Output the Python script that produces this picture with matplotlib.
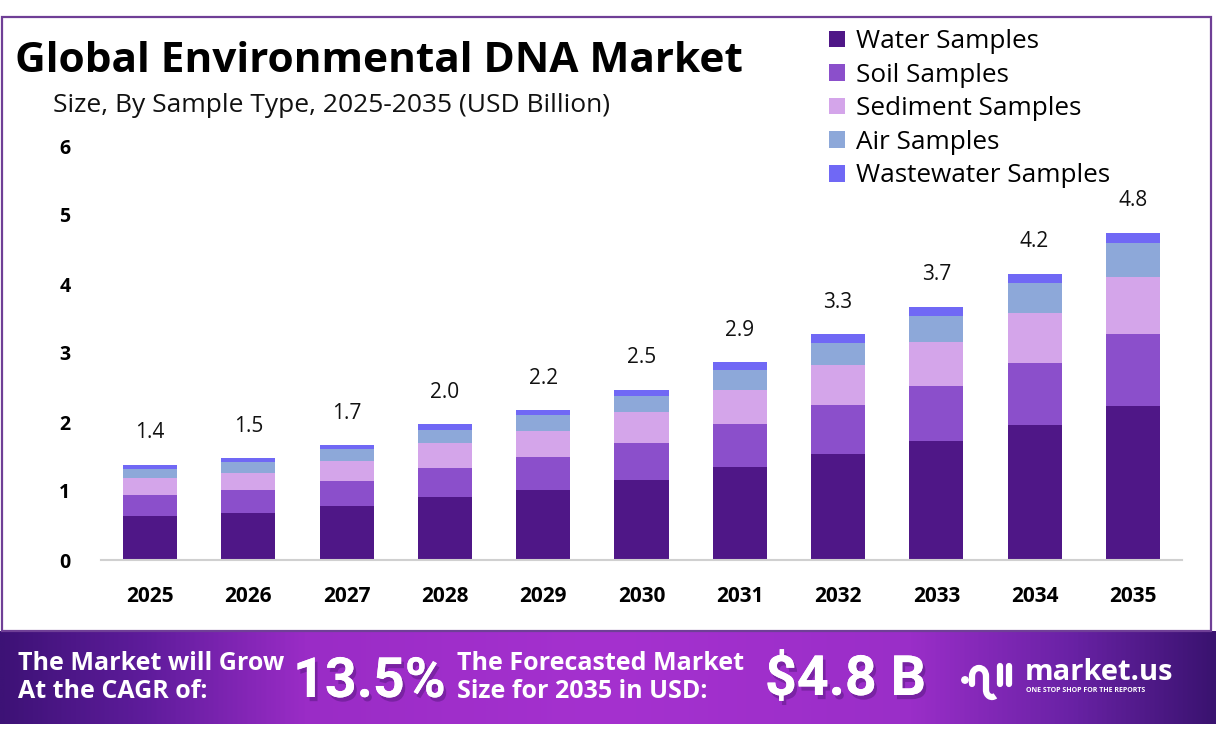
import numpy as np
import matplotlib
matplotlib.use("Agg")
import matplotlib.pyplot as plt
from matplotlib.patches import Rectangle, Patch, Arc, Circle
from matplotlib.colors import LinearSegmentedColormap
import matplotlib.patheffects as pe

# data (USD billion)
years = ["2025", "2026", "2027", "2028", "2029", "2030", "2031", "2032", "2033", "2034", "2035"]
water = [0.64, 0.68, 0.78, 0.91, 1.01, 1.16, 1.35, 1.54, 1.72, 1.96, 2.23]
soil = [0.30, 0.33, 0.36, 0.43, 0.48, 0.54, 0.62, 0.71, 0.80, 0.90, 1.04]
sediment = [0.25, 0.25, 0.30, 0.35, 0.38, 0.44, 0.49, 0.57, 0.64, 0.72, 0.83]
air = [0.13, 0.155, 0.165, 0.20, 0.23, 0.24, 0.30, 0.33, 0.38, 0.43, 0.49]
wastewater = [0.06, 0.06, 0.06, 0.08, 0.07, 0.09, 0.11, 0.12, 0.13, 0.14, 0.155]
totals = [1.4, 1.5, 1.7, 2.0, 2.2, 2.5, 2.9, 3.3, 3.7, 4.2, 4.8]

series_names = ["Water Samples", "Soil Samples", "Sediment Samples", "Air Samples", "Wastewater Samples"]
colors = ["#4f1787", "#8b4fcb", "#d4a5ea", "#8da8d9", "#7068f5"]

FONT = "Open Sans"
W, H = 1216, 745

fig = plt.figure(figsize=(W / 100, H / 100), dpi=100)
fig.patch.set_facecolor("white")

def fx(px):
    return px / W

def fy(py):
    return 1 - py / H

# outer frame
fig.patches.append(Rectangle((fx(2), fy(631)), fx(1209), (631 - 17) / H, transform=fig.transFigure,
                             fill=False, edgecolor="#6f3f96", lw=1.6, zorder=0))

ax = fig.add_axes([fx(101), fy(560), fx(1081), (560 - 146) / H])
x = np.arange(len(years))
bottom = np.zeros(len(years))
for vals, name, c in zip([water, soil, sediment, air, wastewater], series_names, colors):
    ax.bar(x, vals, width=0.55, bottom=bottom, color=c, label=name, zorder=2)
    bottom += np.array(vals)

for xi, top, t in zip(x, bottom, totals):
    ax.annotate(f"{t:.1f}", (xi, top), xytext=(0, 23), textcoords="offset points",
                ha="center", va="center", fontsize=15, family=FONT, color="#111111")

ax.set_xlim(-0.5, len(years) - 0.5)
ax.set_ylim(0, 6)
ax.set_yticks(range(0, 7))
ax.set_xticks(x)
ax.set_xticklabels(years)
for s in ["top", "right", "left"]:
    ax.spines[s].set_visible(False)
ax.spines["bottom"].set_color("#d0d0d0")
ax.spines["bottom"].set_linewidth(1.5)
ax.tick_params(axis="both", length=0)
ax.tick_params(axis="y", pad=26)
ax.tick_params(axis="x", pad=19)
for lab in ax.get_yticklabels():
    lab.set_fontweight("bold")
    lab.set_fontsize(14)
    lab.set_family(FONT)
    lab.set_horizontalalignment("center")
for lab in ax.get_xticklabels():
    lab.set_fontweight("bold")
    lab.set_fontsize(15)
    lab.set_family(FONT)

fig.text(fx(15), fy(61), "Global Environmental DNA Market", fontsize=30.5, fontweight="bold",
         family=FONT, va="center", ha="left", color="black")
fig.text(fx(53), fy(106), "Size, By Sample Type, 2025-2035 (USD Billion)", fontsize=19,
         family=FONT, va="center", ha="left", color="#111111")

handles = [Patch(facecolor=c, edgecolor="none") for c in colors]
fig.legend(handles, series_names, loc="upper left", bbox_to_anchor=(fx(829), fy(29)),
           frameon=False, prop={"family": FONT, "size": 18.8},
           handlelength=0.6, handleheight=0.6, handletextpad=0.45, labelspacing=0.33,
           borderpad=0, borderaxespad=0)

# bottom banner with gradient
bax = fig.add_axes([0, fy(724), 1, (724 - 631) / H])
cmap = LinearSegmentedColormap.from_list("band", [
    (0.0, "#3d1276"), (0.12, "#5f1c9c"), (0.25, "#9a2cc6"), (0.5, "#a531cf"),
    (0.75, "#9a2ec8"), (0.88, "#6a22a6"), (1.0, "#3a1370")])
bax.imshow(np.linspace(0, 1, 512)[None, :], cmap=cmap, aspect="auto", extent=(0, W, 0, 1))
bax.set_xlim(0, W)
bax.set_ylim(0, 1)
bax.axis("off")

shadow = [pe.withSimplePatchShadow(offset=(2, -3), shadow_rgbFace="#3a0f60", alpha=0.35), pe.Normal()]
fig.text(fx(18), fy(663), "The Market will Grow", fontsize=18, fontweight="bold", family=FONT,
         color="white", va="center", ha="left")
fig.text(fx(18), fy(692), "At the CAGR of:", fontsize=18, fontweight="bold", family=FONT,
         color="white", va="center", ha="left")
fig.text(fx(293), fy(682), "13.5%", fontsize=40, fontweight="bold", family="Roboto",
         color="white", va="center", ha="left", path_effects=shadow)
fig.text(fx(457), fy(663), "The Forecasted Market", fontsize=18, fontweight="bold", family=FONT,
         color="white", va="center", ha="left")
fig.text(fx(457), fy(692), "Size for 2035 in USD:", fontsize=18, fontweight="bold", family=FONT,
         color="white", va="center", ha="left")
fig.text(fx(765), fy(680), "$4.8 B", fontsize=40, fontweight="bold", family="Roboto",
         color="white", va="center", ha="left", path_effects=shadow)

# market.us logo
fig.text(fx(1025), fy(673), "market.us", fontsize=21, fontweight="bold", family=FONT,
         color="white", va="center", ha="left")
fig.text(fx(1026), fy(690), "ONE STOP SHOP FOR THE REPORTS", fontsize=5, fontweight="bold",
         family=FONT, color="white", va="center", ha="left")
lax = fig.add_axes([fx(958), fy(704), fx(58), 46 / H])
lax.set_xlim(0, 58)
lax.set_ylim(0, 46)
lax.axis("off")
lax.add_patch(Circle((7, 24), 3.2, color="white"))
lax.add_patch(Arc((21, 28), 14, 16, theta1=0, theta2=180, color="white", lw=4.5))
lax.plot([14, 14], [28, 20], color="white", lw=4.5, solid_capstyle="round")
lax.plot([28, 28], [28, 14], color="white", lw=4.5, solid_capstyle="round")
lax.add_patch(Arc((34, 14), 12, 14, theta1=180, theta2=300, color="white", lw=4.5))
lax.plot([42, 42], [38, 20], color="white", lw=4.5, solid_capstyle="round")
lax.plot([51, 51], [38, 20], color="white", lw=4.5, solid_capstyle="round")

fig.savefig("out.png", dpi=100, facecolor="white")
